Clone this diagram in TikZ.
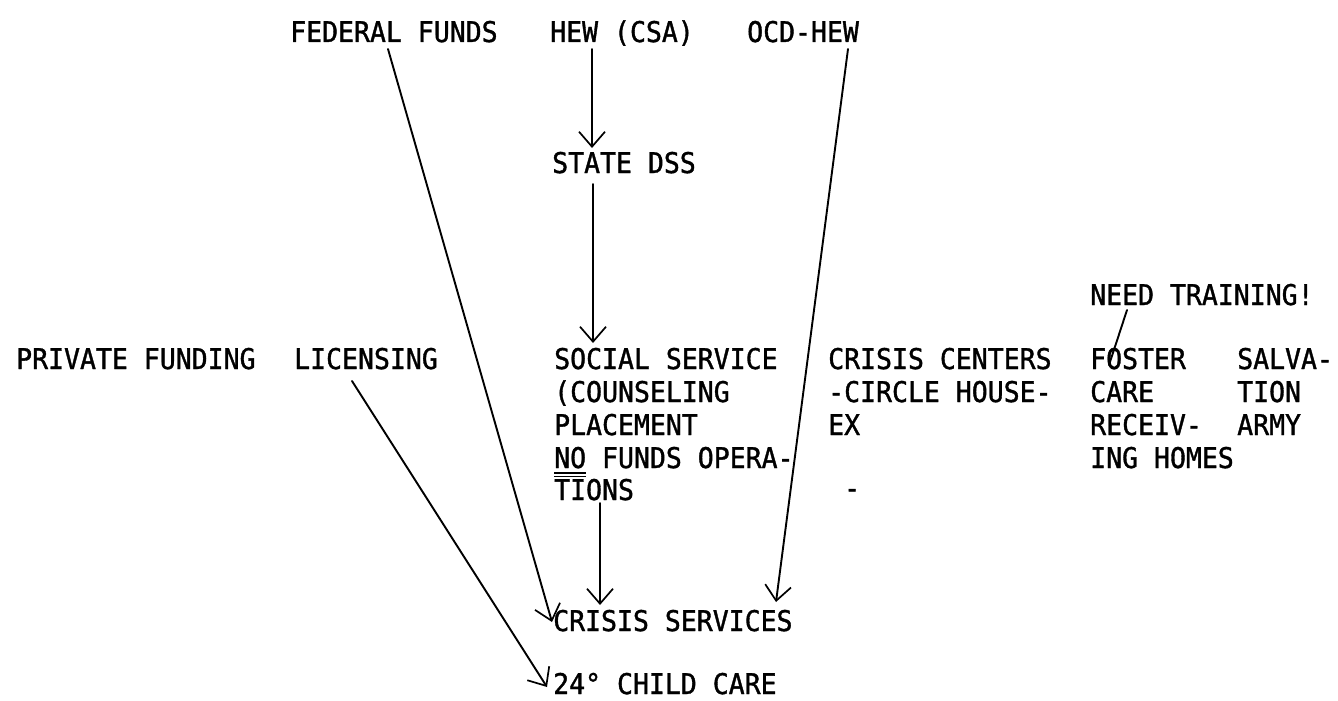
\documentclass[tikz,border=0pt]{standalone}
\usepackage{fontspec}
\newfontfamily\tw[FakeStretch=0.93,FakeBold=1.2]{DejaVu Sans Mono}
\usetikzlibrary{arrows.meta}
\tikzset{
  lbl/.style={anchor=base west, inner sep=0pt, font=\tw\fontsize{28.5}{32}\selectfont},
  conn/.style={line width=1.9pt, line cap=round},
  arr/.style={conn, -{Straight Barb[length=15pt,width=26pt,line width=1.7pt]}},
}
\begin{document}
\begin{tikzpicture}[x=1pt,y=-1pt]
\useasboundingbox (0,0) rectangle (1338,701);
\fill[white] (0,0) rectangle (1338,701);
% top row
\node[lbl] (fed) at (290,42) {FEDERAL FUNDS};
\node[lbl] (hew) at (550,42) {HEW (CSA)};
\node[lbl] (ocd) at (747,42) {OCD-HEW};
\node[lbl] (dss) at (552,173) {STATE DSS};
\node[lbl] (need) at (1090,305) {NEED TRAINING!};
% main row
\node[lbl] (priv) at (16,369) {PRIVATE FUNDING};
\node[lbl] (lic) at (294,369) {LICENSING};
\node[lbl] (soc1) at (554,369) {SOCIAL SERVICE};
\node[lbl] (soc2) at (554,402) {(COUNSELING};
\node[lbl] (soc3) at (554,435) {PLACEMENT};
\node[lbl] (soc4) at (554,468) {NO FUNDS OPERA-};
\node[lbl] (soc5) at (554,500) {TIONS};
\node[lbl] (cc1) at (828,369) {CRISIS CENTERS};
\node[lbl] (cc2) at (828,402) {-CIRCLE HOUSE-};
\node[lbl] (cc3) at (828,435) {EX};
\node[lbl] (cc4) at (844,498) {-};
\node[lbl] (fos1) at (1090,369) {FOSTER};
\node[lbl] (fos2) at (1090,402) {CARE};
\node[lbl] (fos3) at (1090,435) {RECEIV-};
\node[lbl] (fos4) at (1090,468) {ING HOMES};
\node[lbl] (sal1) at (1237,369) {SALVA-};
\node[lbl] (sal2) at (1237,402) {TION};
\node[lbl] (sal3) at (1237,435) {ARMY};
% bottom
\node[lbl] (cs) at (553,631) {CRISIS SERVICES};
\node[lbl] (care) at (553,694) {24° CHILD CARE};
% underline of NO
\draw[line width=1.2pt] ([shift={(0,5)}]soc4.base west) -- ++(32,0);
\draw[line width=1.2pt] ([shift={(0,8.5)}]soc4.base west) -- ++(32,0);
% connectors
\draw[arr] ([shift={(98,7)}]fed.base west) -- ([shift={(-1,-9)}]cs.base west);
\draw[arr] ([shift={(42,7)}]hew.base west) -- ([shift={(40,-25)}]dss.base west);
\draw[arr] ([shift={(101,7)}]ocd.base west) -- ([shift={(223,-29)}]cs.base west);
\draw[arr] ([shift={(41,11)}]dss.base west) -- ([shift={(39,-26)}]soc1.base west);
\draw[arr] ([shift={(46,3)}]soc5.base west) -- ([shift={(47,-26)}]cs.base west);
\draw[arr] ([shift={(58,12)}]lic.base west) -- ([shift={(-6,-7)}]care.base west);
\draw[conn] ([shift={(37,5)}]need.base west) -- ([shift={(19,-4)}]fos1.base west);
\end{tikzpicture}
\end{document}
